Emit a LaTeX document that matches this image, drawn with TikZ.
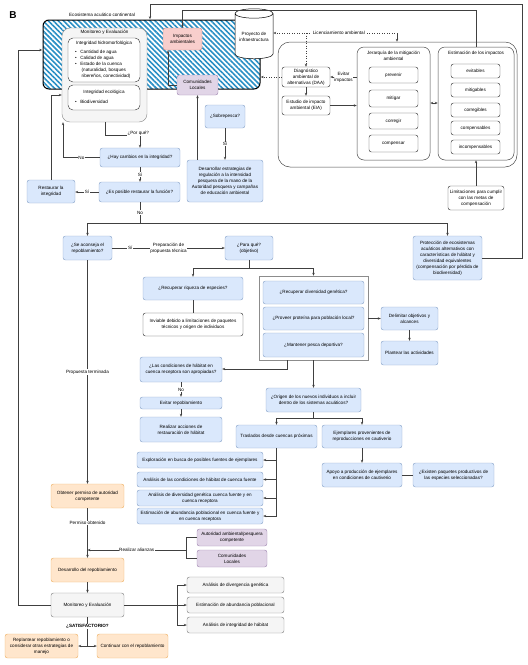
\documentclass[tikz,border=0pt]{standalone}
\usepackage{fontspec}
\setmainfont{Liberation Sans}
\usetikzlibrary{shapes.geometric,arrows.meta,patterns.meta,calc}
\definecolor{bfill}{HTML}{DAE8FC}\definecolor{bdraw}{HTML}{8FA8CC}
\definecolor{ofill}{HTML}{FFE6CC}\definecolor{odraw}{HTML}{F0B46A}
\definecolor{pfill}{HTML}{F8CECC}\definecolor{pdraw}{HTML}{C98A88}
\definecolor{ufill}{HTML}{E1D5E7}\definecolor{udraw}{HTML}{A58DB5}
\definecolor{gfill}{HTML}{F5F5F5}\definecolor{gdraw}{HTML}{8A8A8A}
\definecolor{hatch}{HTML}{2A8FC4}
\newcommand\bx[7]{%
  \pgfmathsetmacro\bxw{#4-#2}\pgfmathsetmacro\bxh{#5-#3}%
  \pgfmathsetmacro\bxcx{(#2+#4)/2}\pgfmathsetmacro\bxcy{(#3+#5)/2}%
  \node[#6, minimum width=\bxw pt, minimum height=\bxh pt, align=center] (#1) at (\bxcx,\bxcy) {#7};}
\begin{document}
\begin{tikzpicture}[x=1pt,y=-1pt,
  font=\fontsize{4.6}{6}\selectfont,
  >={Stealth[length=3pt,width=2.4pt]},
  base/.style={rounded corners=2.5pt, line width=0.45pt, inner sep=1pt},
  blue/.style={base, fill=bfill, draw=bdraw},
  orng/.style={base, fill=ofill, draw=odraw},
  pink/.style={base, fill=pfill, draw=pdraw},
  purp/.style={base, fill=ufill, draw=udraw},
  gray/.style={base, fill=gfill, draw=gdraw},
  wbox/.style={base, fill=white, draw=black!75},
  frame/.style={rounded corners=7pt, line width=0.5pt, draw=black!70, fill=white},
  conn/.style={draw=black!75, line width=0.5pt},
  lbl/.style={fill=white, inner sep=0.6pt}]
\useasboundingbox (0,0) rectangle (528,665);

% ---------- header ----------
\node[font=\fontsize{10}{10}\selectfont\bfseries] (B) at (13,15) {B};
\node (ecotit) at (102,15) {Ecosistema acuático continental};

% ---------- hatched ecosystem ----------
\bx{H}{43}{20}{260}{89}{draw=black, line width=1pt, rounded corners=6pt, pattern={Lines[angle=-45,distance=3.6pt,line width=1.6pt]}, pattern color=hatch}{}
\bx{mon}{62}{28}{147}{122}{gray, rounded corners=8pt}{}
\node (montit) at (104.5,32.5) {Monitoreo y Evaluación};
\bx{ih}{68}{38}{140}{82}{wbox, rounded corners=5pt}{}
\node (ihtit) at (104,43.5) {Integridad hidromorfológica};
\node[align=left, anchor=north west, inner sep=0pt] (ihl) at (75,50) {%
\textbullet\hspace{3.5pt}Cantidad de agua\\
\textbullet\hspace{3.5pt}Calidad de agua\\
\textbullet\hspace{3.5pt}Estado de la cuenca\\
\hspace{6.5pt}(naturalidad, bosques\\
\hspace{6.5pt}ribereños, conectividad)};
\bx{ie}{68}{85}{140}{110}{wbox, rounded corners=5pt}{}
\node (ietit) at (104,92) {Integridad ecológica};
\node[anchor=west, inner sep=0pt] (iel) at (75,102) {\textbullet\hspace{3.5pt}Biodiversidad};
\bx{imp}{163}{28}{202}{50}{pink}{Impactos\\ambientales}
\bx{com1}{177}{75}{218}{95}{purp}{Comunidades\\Locales}
\node[cylinder, shape border rotate=90, aspect=0.3, draw=black, fill=white, line width=0.5pt,
  minimum width=38pt, minimum height=50pt, align=center, inner sep=1pt] (proy) at (254,37) {Proyecto de\\infraestructura};

% ---------- licensing container ----------
\bx{cont}{278}{42}{517}{167}{frame, rounded corners=12pt}{}
\bx{DAA}{282}{67}{330}{87}{wbox}{Diagnóstico\\ambiental de\\alternativas (DAA)}
\bx{EIA}{282}{96}{330}{115}{wbox}{Estudio de impacto\\ambiental (EIA)}
\bx{jer}{357}{47}{430}{160}{frame}{}
\node[align=center] (jertit) at (393.5,55.5) {Jerarquía de la mitigación\\ambiental};
\bx{prev}{369}{67}{418}{83}{wbox}{prevenir}
\bx{miti}{369}{90}{418}{107}{wbox}{mitigar}
\bx{corr}{369}{113}{418}{129}{wbox}{corregir}
\bx{comp}{369}{135}{418}{152}{wbox}{compensar}
\bx{est}{438}{47}{514}{160}{frame}{}
\node (esttit) at (476,53) {Estimación de los impactos};
\bx{evit}{451}{64}{500}{78}{wbox}{evitables}
\bx{mitig}{451}{83}{500}{97}{wbox}{mitigables}
\bx{corg}{451}{103}{500}{117}{wbox}{corregibles}
\bx{comps}{451}{121}{500}{135}{wbox}{compensables}
\bx{incomp}{451}{140}{500}{154}{wbox}{incompensables}
\bx{lim}{448}{186}{504}{210}{wbox}{Limitaciones para cumplir\\con las metas de\\compensación}

% ---------- decision upper ----------
\bx{sob}{205}{105}{245}{128}{blue}{¿Sobrepesca?}
\bx{des}{187}{160}{263}{202}{blue}{Desarrollar estrategias de\\regulación a la intensidad\\pesquera de la mano de la\\Autoridad pesquera y campañas\\de educación ambiental}
\bx{hay}{100}{148}{180}{167}{blue}{¿Hay cambios en la integridad?}
\bx{posible}{99}{182}{180}{202}{blue}{¿Es posible restaurar la función?}
\bx{rest}{27}{180}{75}{203}{blue}{Restaurar la\\integridad}
\bx{acon}{63}{236}{112}{260}{blue}{¿Se aconseja el\\repoblamiento?}
\bx{para}{225}{236}{273}{260}{blue}{¿Para qué?\\(objetivo)}
\bx{prot}{413}{236}{482}{280}{blue}{Protección de ecosistemas\\acuáticos alternativos con\\características de hábitat y\\diversidad equivalentes\\(compensación por pérdida de\\biodiversidad)}

% ---------- objectives ----------
\bx{riq}{143}{277}{243}{300}{blue}{¿Recuperar riqueza de especies?}
\bx{inv}{143}{313}{243}{336}{wbox}{Inviable debido a limitaciones de paquetes\\técnicos y origen de individuos}
\bx{grp}{259}{276}{368}{360}{draw=black!45, fill=white, line width=0.5pt}{}
\bx{gen}{263}{281}{364}{304}{blue}{¿Recuperar diversidad genética?}
\bx{prote}{263}{307}{364}{330}{blue}{¿Proveer proteína para población local?}
\bx{pesca}{263}{333}{364}{357}{blue}{¿Mantener pesca deportiva?}
\bx{del}{381}{307}{438}{330}{blue}{Delimitar objetivos y\\alcances}
\bx{pla}{381}{341}{438}{365}{blue}{Plantear las actividades}
\bx{cond}{140}{357}{222}{382}{blue}{¿Las condiciones de hábitat en\\cuenca receptora son apropiadas?}
\bx{evr}{140}{397}{222}{409}{blue}{Evitar repoblamiento}
\bx{rea}{140}{417}{222}{442}{blue}{Realizar acciones de\\restauración de hábitat}
\bx{ori}{266}{388}{361}{412}{blue}{¿Origen de los nuevos individuos a incluir\\dentro de los sistemas acuáticos?}
\bx{tra}{236}{425}{317}{448}{blue}{Traslados desde cuencas próximas}
\bx{eje}{322}{425}{402}{448}{blue}{Ejemplares provenientes de\\reproducciones en cautiverio}
\bx{apo}{322}{463}{402}{487}{blue}{Apoyo a producción de ejemplares\\en condiciones de cautiverio}
\bx{exi}{413}{463}{494}{487}{blue}{¿Existen paquetes productivos de\\las especies seleccionadas?}
\bx{a1}{137}{452}{263}{468}{blue}{Exploración en busca de posibles fuentes de ejemplares}
\bx{a2}{137}{472}{263}{487}{blue}{Análisis de las condiciones de hábitat de cuenca fuente}
\bx{a3}{137}{490}{263}{506}{blue}{Análisis de diversidad genética cuenca fuente y en\\cuenca receptora}
\bx{a4}{137}{508}{263}{524}{blue}{Estimación de abundancia poblacional en cuenca fuente y\\en cuenca receptora}

% ---------- lower ----------
\bx{perm}{51}{484}{124}{508}{orng}{Obtener permiso de autoridad\\competente}
\bx{desr}{51}{558}{124}{582}{orng}{Desarrollo del repoblamiento}
\bx{aut}{197}{529}{267}{546}{purp}{Autoridad ambiental/pesquera\\competente}
\bx{com2}{197}{550}{267}{567}{purp}{Comunidades\\Locales}
\bx{mon2}{51}{593}{124}{617}{gray}{Monitoreo y Evaluación}
\bx{g1}{187}{577}{284}{593}{gray}{Análisis de divergencia genética}
\bx{g2}{187}{597}{284}{613}{gray}{Estimación de abundancia poblacional}
\bx{g3}{187}{617}{284}{633}{gray}{Análisis de integridad de hábitat}
\bx{repl}{5}{634}{78}{658}{orng}{Replantear repoblamiento o\\considerar otras estrategias de\\manejo}
\bx{cont2}{97}{634}{168}{658}{orng}{Continuar con el repoblamiento}

% ---------- connectors ----------
\coordinate (lft) at (18,50);
\draw[conn,->] (mon2.west) -| (lft) -- (lft -| H.west);
\coordinate (r1) at (51,95);
\draw[conn,->] (rest.north) -- (r1) -- (r1 -| mon.west);
\coordinate (n1) at (63,0);
\draw[conn,->] (hay.west) -- node[lbl]{No} (hay.west -| n1) -- (mon.south -| n1);
\coordinate (pq) at (105,135);
\draw[conn,->] (mon.south -| pq) -- (pq) -- node[lbl, above, yshift=-0.8pt, pos=0.95]{¿Por qué?} (pq -| hay.north) -- (hay.north);
\draw[conn,->] (hay.south) -- node[lbl]{Sí} (hay.south |- posible.north);
\draw[conn,->] (posible.west) -- node[lbl]{Sí} (posible.west -| rest.east);
\coordinate (nb) at (140,223);
\draw[conn] (nb |- posible.south) -- node[lbl]{No} (nb);
\draw[conn,->] (nb) -| (acon.north);
\draw[conn,->] (nb) -| (prot.north);
\draw[conn,->] (acon.east) -- node[lbl,pos=0.16]{Sí} node[lbl,pos=0.5,align=center]{Preparación de\\propuesta técnica} (para.west);
\coordinate (tr) at (522,4.5); \coordinate (tl) at (150,4.5);
\draw[conn,->] (prot.east) -| (tr) -- (tl) -- (tl |- H.north);
\coordinate (t2) at (0,10);
\draw[conn,->] (est.north) -- (est.north |- t2) -| (imp.north);
\draw[conn,->] (lim.north) -- (lim.north |- est.south);
\coordinate (lic) at (397,33);
\draw[conn,->] (lic) -- (lic |- cont.north);
\draw[conn,->,dotted] (lic) -- node[lbl, pos=0.47]{Licenciamiento ambiental} (lic -| proy.east);
\draw[conn,->,dotted] (lic -| DAA.north) -- (DAA.north);
\draw[conn,->,dotted] (DAA.west) -- (DAA.west -| H.east);
\draw[conn,->] (DAA.east -| jer.west) -- node[lbl,align=center]{Evitar\\impactos} (DAA.east);
\draw[conn,->] (EIA.east) -- (EIA.east -| jer.west);
\draw[conn,->] (DAA) -- (EIA);
\coordinate (je) at (0,103);
\draw[conn,<->] (jer.east |- je) -- (est.west |- je);
\draw[conn,->] (sob.south) -- node[lbl]{Sí} (sob.south |- des.north);
\draw[conn,->] (des.north -| com1.south) -- (com1.south);
\coordinate (ci) at (168,0);
\draw[conn,->] (com1.west) -- (com1.west -| ci) -- (imp.south -| ci);
% objectives
\coordinate (pb) at (0,268);
\draw[conn] (para.south) -- (para.south |- pb);
\draw[conn] (riq.north |- pb) -- (grp.north |- pb);
\draw[conn,->] (riq.north |- pb) -- (riq.north);
\draw[conn,->] (grp.north |- pb) -- (grp.north);
\draw[conn] (riq) -- (inv);
\draw[conn,->] (grp.east |- del.west) -- (del.west);
\draw[conn,->] (del) -- (pla);
\coordinate (gc) at (287,369);
\draw[conn,->] (grp.south -| gc) -- (gc) -- (gc -| cond.east);
\draw[conn,->] (cond) -- node[lbl]{No} (evr);
\draw[conn,->] (evr) -- (rea);
\draw[conn,->] (grp.south -| ori.north) -- (ori.north);
\coordinate (ob) at (0,418);
\draw[conn] (ori.south) -- (ori.south |- ob);
\draw[conn] (tra.north |- ob) -- (eje.north |- ob);
\draw[conn,->] (tra.north |- ob) -- (tra.north);
\draw[conn,->] (eje.north |- ob) -- (eje.north);
\draw[conn,->] (eje) -- (apo);
\draw[conn] (apo) -- (exi);
\draw[conn] (tra.south) -- (tra.south |- a4.east);
\foreach \a in {a1,a2,a3,a4} \draw[conn,->] (tra.south |- \a.east) -- (\a.east);
% lower
\draw[conn,->] (acon.south) -- node[lbl]{Propuesta terminada} (acon.south |- perm.north);
\draw[conn,->] (perm.south) -- node[lbl,pos=0.3]{Permiso obtenido} (desr.north);
\coordinate (br) at (186,550);
\draw[conn] (aut.west) -| (br |- com2.west) -- (com2.west);
\draw[conn,->] (br) -- node[lbl]{Realizar alianzas} (br -| perm.south);
\draw[conn,->] (desr) -- (mon2);
\coordinate (gb) at (177,0);
\draw[conn] (mon2.east) -- (mon2.east -| gb);
\draw[conn] (gb |- g1.west) -- (gb |- g3.west);
\foreach \g in {g1,g2,g3} \draw[conn,->] (gb |- \g.west) -- (\g.west);
\coordinate (sj) at (87.5,646);
\draw[conn] (mon2.south) -- node[lbl,pos=0.31,font=\fontsize{4.6}{5}\selectfont\bfseries]{¿SATISFACTORIO?} (sj);
\draw[conn,->] (sj) -- (sj -| repl.east);
\draw[conn,->] (sj) -- (sj -| cont2.west);
\end{tikzpicture}
\end{document}
